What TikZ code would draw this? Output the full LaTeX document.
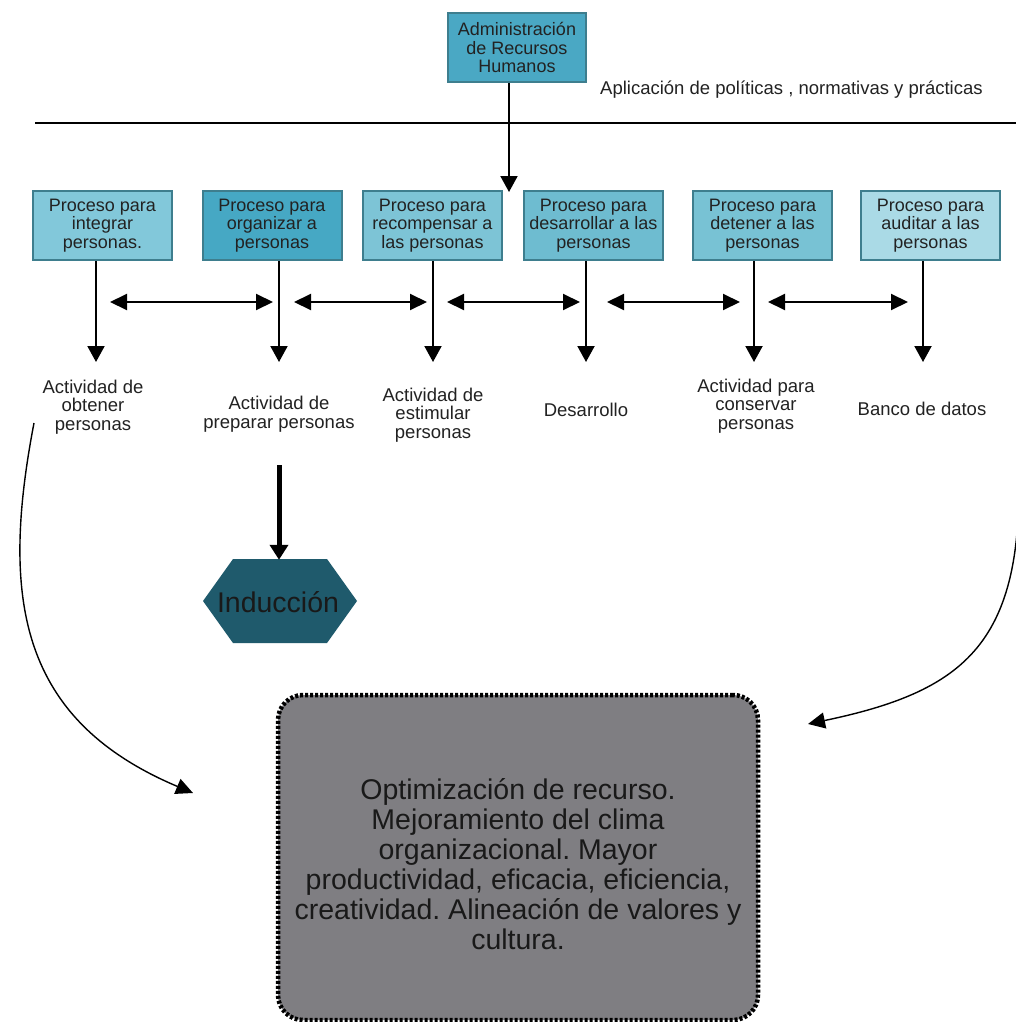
\documentclass[tikz,border=0pt]{standalone}
\usepackage{fontspec}
\setmainfont{Liberation Sans}
\usetikzlibrary{arrows.meta}
\frenchspacing

\definecolor{edgeteal}{HTML}{3E7E8E}
\definecolor{admfill}{HTML}{4AA8C4}
\definecolor{pA}{HTML}{82C8DA}
\definecolor{pB}{HTML}{46A8C4}
\definecolor{pC}{HTML}{7DC4D6}
\definecolor{pD}{HTML}{6EBCD0}
\definecolor{pE}{HTML}{78C2D4}
\definecolor{pF}{HTML}{AADAE6}
\definecolor{hexfill}{HTML}{1F5A6C}
\definecolor{resfill}{HTML}{7F7E82}
\definecolor{ink}{HTML}{222222}

\tikzset{
  procbox/.style={draw=edgeteal, line width=2pt, minimum width=139pt, minimum height=69pt,
    inner sep=0pt, align=center, text=ink,
    font=\fontsize{18}{18.5}\selectfont},
  label/.style={align=center, text=ink, inner sep=0pt,
    font=\fontsize{18.5}{18.5}\selectfont},
  downarrow/.style={line width=2pt, -{Triangle[width=17pt,length=16pt]}},
  twoway/.style={line width=2pt, {Triangle[width=16pt,length=17pt]}-{Triangle[width=16pt,length=17pt]}},
  bentarrow/.style={line width=1.4pt, -{Triangle[width=16pt,length=17pt]}},
}

\begin{document}
\begin{tikzpicture}[x=1pt,y=-1pt]
\useasboundingbox[fill=white] (0,0) rectangle (1016,1022);

% top box and heading line
\node[procbox, fill=admfill, minimum width=138pt] (adm) at (517,47.5)
  {Administración\\de Recursos\\Humanos};
\node[label, anchor=west] (pol) at (600,90)
  {Aplicación de políticas , normativas y prácticas};
\coordinate (lineL) at (35,123);
\coordinate (lineR) at (1016,123);
\draw[line width=2.5pt] (lineL) -- (lineR);

% process boxes
\node[procbox, fill=pA] (b1) at (102.5,225.5) {Proceso para\\integrar\\personas.};
\node[procbox, fill=pB] (b2) at (272,225.5) {Proceso para\\organizar a\\personas};
\node[procbox, fill=pC] (b3) at (432.5,225.5) {Proceso para\\recompensar a\\las personas};
\node[procbox, fill=pD] (b4) at (593.5,225.5) {Proceso para\\desarrollar a las\\personas};
\node[procbox, fill=pE] (b5) at (762.5,225.5) {Proceso para\\detener a las\\personas};
\node[procbox, fill=pF] (b6) at (930.5,225.5) {Proceso para\\auditar a las\\personas};

\coordinate (admtip) at (509,192);
\draw[downarrow] (admtip |- adm.south) -- (admtip);

% vertical arrows from each process
\coordinate (t1) at (96,362);
\coordinate (t2) at (279,362);
\coordinate (t3) at (433,362);
\coordinate (t4) at (586,362);
\coordinate (t5) at (754,362);
\coordinate (t6) at (923,362);
\foreach \i in {1,...,6} \draw[downarrow] (t\i |- b\i.south) -- (t\i);

% two-way arrows between the processes
\coordinate (h1a) at (110,302); \coordinate (h1b) at (273,302);
\coordinate (h2a) at (294,302); \coordinate (h2b) at (427,302);
\coordinate (h3a) at (447,302); \coordinate (h3b) at (580,302);
\coordinate (h4a) at (607,302); \coordinate (h4b) at (740,302);
\coordinate (h5a) at (768,302); \coordinate (h5b) at (908,302);
\foreach \i in {1,...,5} \draw[twoway] (h\i a) -- (h\i b);

% activities
\node[label] (l1) at (93,407) {Actividad de\\obtener\\personas};
\node[label] (l2) at (279,414) {Actividad de\\preparar personas};
\node[label] (l3) at (433,415) {Actividad de\\estimular\\personas};
\node[label] (l4) at (586,410) {Desarrollo};
\node[label] (l5) at (756,406) {Actividad para\\conservar\\personas};
\node[label] (l6) at (922,409) {Banco de datos};

% induction hexagon
\fill[hexfill] (203,601) -- (233,559) -- (327,559) -- (357,601) -- (327,643) -- (233,643) -- cycle;
\node[inner sep=0pt, minimum width=154pt, minimum height=84pt, text=black!90,
  font=\fontsize{28.5}{30}\selectfont] (ind) at (278,602) {Inducción};
\coordinate (thick0) at (279,465);
\draw[line width=5pt, -{Triangle[width=18pt,length=15pt]}] (thick0) -- (thick0 |- ind.north);

% result box
\node[draw=black, line width=4.5pt, dash pattern=on 3pt off 2pt, fill=resfill,
  rounded corners=25pt, minimum width=480pt, minimum height=325pt, inner sep=0pt]
  (res) at (518,857.5) {};
\node[align=center, inner sep=0pt, text=black!90, font=\fontsize{28.5}{30}\selectfont]
  (restext) at ([yshift=-7pt]res.center)
  {Optimización de recurso.\\Mejoramiento del clima\\organizacional. Mayor\\productividad, eficacia, eficiencia,\\creatividad. Alineación de valores y\\cultura.};

% curved arrows into the result box
\coordinate (cL0) at (34,423);
\coordinate (cL1) at (193,793);
\draw[bentarrow] (cL0) .. controls (0,600) and (20,720) .. (cL1);
\coordinate (cR0) at (1017,440);
\coordinate (cR1) at (808,724);
\draw[bentarrow] (cR0) .. controls (1030,640) and (970,690) .. (cR1);
\end{tikzpicture}
\end{document}
